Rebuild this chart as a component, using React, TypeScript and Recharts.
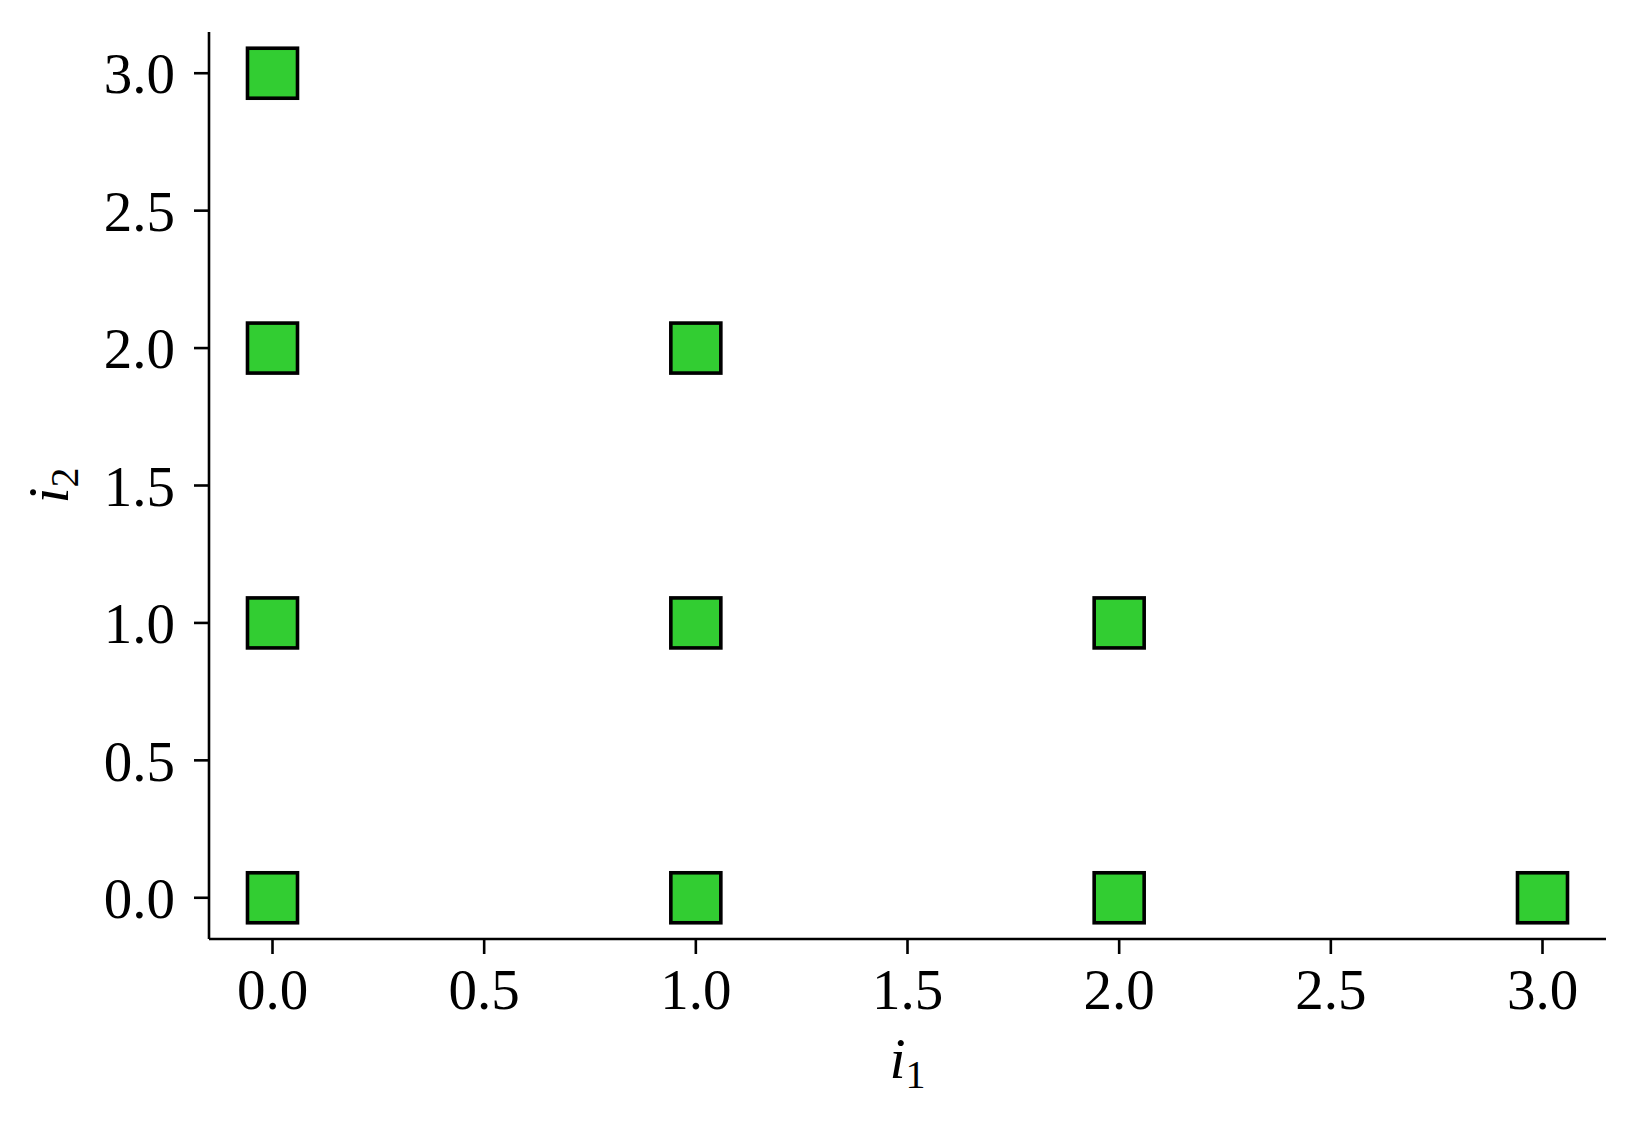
import { ScatterChart, Scatter, XAxis, YAxis, Label } from 'recharts'

const i1Values = [0, 1, 2, 3, 0, 1, 2, 0, 1, 0]
const i2Values = [0, 0, 0, 0, 1, 1, 1, 2, 2, 3]
const tickValues = [0, 0.5, 1, 1.5, 2, 2.5, 3]

const points = i1Values.map((x, k) => ({ x, y: i2Values[k] }))

const FONT = '"Liberation Serif", "DejaVu Serif", serif'

if (typeof document !== 'undefined') document.body.style.margin = '0'

function SquareMark(props: any) {
  const { cx, cy } = props
  const s = 50
  return (
    <rect x={cx - s / 2} y={cy - s / 2} width={s} height={s}
      fill="#32CD32" stroke="#000" strokeWidth={3.6} />
  )
}

function XLabel(props: any) {
  const vb = props.viewBox || {}
  const cx = vb.x + vb.width / 2
  const by = vb.y + 139
  return (
    <text x={cx} y={by} textAnchor="middle" fontFamily={FONT} fontSize={58} fill="#000">
      <tspan fontStyle="italic">i</tspan>
      <tspan fontSize={40} dy={10}>1</tspan>
    </text>
  )
}

function YLabel(props: any) {
  const vb = props.viewBox || {}
  const cy = vb.y + vb.height / 2
  const bx = 68
  return (
    <text x={bx} y={cy} textAnchor="middle" fontFamily={FONT} fontSize={58} fill="#000"
      transform={`rotate(-90, ${bx}, ${cy})`}>
      <tspan fontStyle="italic">i</tspan>
      <tspan fontSize={40} dy={10}>2</tspan>
    </text>
  )
}

export default function App() {
  const tickStyle = { fill: '#000', fontSize: 57, fontFamily: FONT }
  return (
    <div style={{ width: 1637, height: 1132, background: '#fff' }}>
      <ScatterChart width={1637} height={1132} margin={{ top: 32, right: 31, bottom: 0, left: 0 }}>
        <XAxis
          type="number"
          dataKey="x"
          domain={[-0.15, 3.15]}
          allowDataOverflow
          ticks={tickValues}
          tickFormatter={(v) => v.toFixed(1)}
          tick={tickStyle}
          tickSize={15}
          tickMargin={15}
          height={193}
          axisLine={{ stroke: '#000', strokeWidth: 2.6 }}
          tickLine={{ stroke: '#000', strokeWidth: 2.6 }}
        >
          <Label content={<XLabel />} />
        </XAxis>
        <YAxis
          type="number"
          dataKey="y"
          domain={[-0.15, 3.15]}
          allowDataOverflow
          ticks={tickValues}
          tickFormatter={(v) => v.toFixed(1)}
          tick={tickStyle}
          tickSize={15}
          tickMargin={19}
          width={209}
          axisLine={{ stroke: '#000', strokeWidth: 2.6 }}
          tickLine={{ stroke: '#000', strokeWidth: 2.6 }}
        >
          <Label content={<YLabel />} />
        </YAxis>
        <Scatter data={points} shape={<SquareMark />} isAnimationActive={false} />
      </ScatterChart>
    </div>
  )
}
